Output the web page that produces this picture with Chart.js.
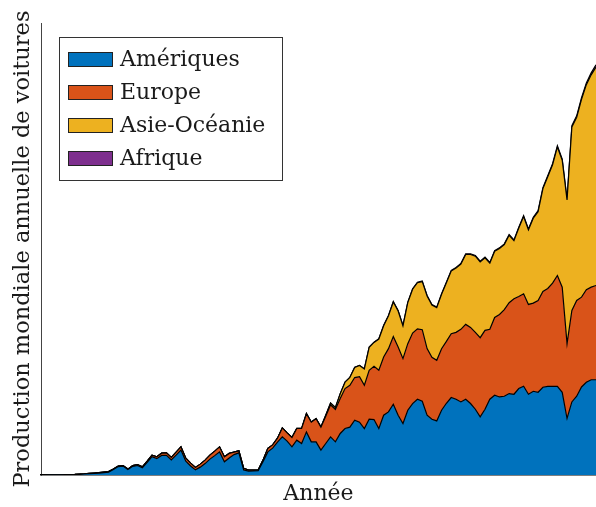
<!DOCTYPE html>
<html>
<head>
<meta charset="utf-8">
<script src="https://cdn.jsdelivr.net/npm/chart.js@4.4.0/dist/chart.umd.min.js"></script>
<style>
  html, body { margin: 0; padding: 0; background: #fff; }
  #wrap { width: 596px; height: 507px; }
</style>
</head>
<body>
<div id="wrap"><canvas id="graphCanvas" width="596" height="507"></canvas></div>
<script>
// production annuelle, en millions de voitures
var firstYear = 1900;
var lastYear = 2015;

var ameriques = [
  0.03, 0.03, 0.05, 0.05, 0.06, 0.08, 0.08, 0.1, 0.13, 0.18,
  0.23, 0.27, 0.33, 0.4, 0.48, 0.92, 1.42, 1.5, 0.93, 1.47,
  1.6, 1.22, 2.13, 3.08, 2.75, 3.28, 3.3, 2.53, 3.33, 4.18,
  2.33, 1.53, 0.87, 1.33, 1.92, 2.67, 3.25, 3.88, 2.22, 2.87,
  3.42, 3.72, 0.87, 0.67, 0.7, 0.75, 2.25, 3.88, 4.5, 5.5,
  6.38, 5.67, 4.72, 5.83, 5.28, 7.22, 5.55, 5.55, 4.17, 5.28,
  6.38, 5.55, 6.95, 7.78, 8.0, 9.17, 8.83, 7.78, 9.33, 9.28,
  7.78, 10.0, 10.55, 11.83, 10.0, 8.62, 10.83, 11.95, 12.67, 12.33,
  10.0, 9.33, 9.05, 10.83, 12.0, 12.95, 12.67, 12.22, 12.67, 11.95,
  11.0, 9.72, 11.0, 12.67, 13.33, 13.05, 13.17, 13.62, 13.5, 14.45,
  14.83, 13.5, 14.0, 13.83, 14.67, 14.83, 14.83, 14.83, 13.83, 9.45,
  12.22, 13.17, 14.72, 15.5, 15.92, 15.92
];

var europe = [
  0, 0, 0, 0.01, 0.01, 0.01, 0.02, 0.02, 0.03, 0.03,
  0.05, 0.07, 0.08, 0.1, 0.1, 0.08, 0.08, 0.08, 0.07, 0.12,
  0.15, 0.17, 0.2, 0.25, 0.3, 0.38, 0.42, 0.42, 0.5, 0.53,
  0.5, 0.47, 0.42, 0.5, 0.58, 0.67, 0.75, 0.83, 0.83, 0.75,
  0.42, 0.33, 0.25, 0.17, 0.13, 0.08, 0.25, 0.57, 0.55, 0.67,
  1.5, 1.38, 1.57, 1.95, 2.5, 3.03, 3.28, 3.87, 3.83, 4.55,
  5.37, 5.4, 5.83, 6.67, 7.0, 7.12, 7.62, 7.22, 8.17, 8.88,
  9.72, 9.72, 10.57, 11.33, 11.38, 10.83, 11.12, 11.77, 11.75, 11.95,
  11.12, 10.33, 10.12, 10.28, 10.33, 10.67, 11.17, 12.12, 12.5, 12.72,
  12.83, 13.23, 13.17, 11.67, 13.0, 13.78, 14.45, 15.17, 15.95, 15.38,
  15.45, 15.0, 14.72, 15.33, 16.0, 16.33, 17.22, 18.5, 17.55, 12.5,
  15.28, 16.0, 15.0, 15.45, 15.47, 15.75
];

var asieOceanie = [
  0, 0, 0, 0, 0, 0, 0, 0, 0, 0,
  0, 0, 0, 0, 0, 0, 0, 0, 0, 0,
  0, 0, 0, 0, 0, 0, 0, 0, 0, 0,
  0, 0, 0, 0, 0, 0, 0, 0, 0, 0,
  0, 0, 0, 0, 0, 0, 0, 0, 0, 0,
  0, 0.01, 0.01, 0.01, 0.02, 0.02, 0.02, 0.03, 0.05, 0.17,
  0.27, 0.3, 0.8, 1.07, 1.3, 1.68, 1.85, 2.73, 3.83, 4.0,
  5.22, 5.22, 5.48, 5.75, 6.03, 5.47, 6.85, 7.32, 7.7, 8.03,
  8.78, 8.73, 8.78, 9.07, 9.78, 10.45, 10.73, 10.9, 11.67, 12.17,
  12.72, 12.65, 12.1, 11.05, 11.05, 11.0, 10.88, 11.25, 9.7, 11.42,
  12.9, 12.47, 14.18, 14.83, 17.17, 18.67, 19.77, 21.47, 21.2, 24.0,
  30.62, 30.6, 33.02, 34.25, 35.45, 36.47
];

var afrique = [
  0, 0, 0, 0, 0, 0, 0, 0, 0, 0,
  0, 0, 0, 0, 0, 0, 0, 0, 0, 0,
  0, 0, 0, 0, 0, 0, 0, 0, 0, 0,
  0, 0, 0, 0, 0, 0, 0, 0, 0, 0,
  0, 0, 0, 0, 0, 0, 0, 0, 0, 0,
  0, 0, 0, 0, 0, 0, 0, 0, 0, 0,
  0.03, 0.03, 0.03, 0.03, 0.03, 0.03, 0.03, 0.05, 0.05, 0.05,
  0.07, 0.07, 0.07, 0.08, 0.08, 0.08, 0.08, 0.08, 0.1, 0.1,
  0.1, 0.1, 0.1, 0.1, 0.1, 0.1, 0.1, 0.1, 0.12, 0.12,
  0.12, 0.12, 0.12, 0.12, 0.12, 0.12, 0.12, 0.13, 0.13, 0.13,
  0.15, 0.15, 0.17, 0.17, 0.17, 0.17, 0.18, 0.2, 0.2, 0.17,
  0.22, 0.23, 0.27, 0.3, 0.33, 0.37
];

var regions = ['Amériques', 'Europe', 'Asie-Océanie', 'Afrique'];
var couleurs = ['#0072BD', '#D95319', '#EDB120', '#7E2F8E'];
var series = [ameriques, europe, asieOceanie, afrique];

var annees = [];
for (var a = firstYear; a <= lastYear; a++) {
  annees.push(String(a));
}

var police = '"DejaVu Serif", "Liberation Serif", serif';

var datasets = [];
for (var i = 0; i < regions.length; i++) {
  datasets.push({
    label: regions[i],
    data: series[i],
    backgroundColor: couleurs[i],
    borderColor: '#000',
    borderWidth: 1.2,
    pointRadius: 0,
    tension: 0,
    fill: i === 0 ? 'origin' : '-1'
  });
}

/**
* Légende dessinée dans la zone du graphe, en haut à gauche
*/
var legendeInterne = {
  id: 'legendeInterne',
  afterDraw: function (chart) {
    var ctx = chart.ctx;
    ctx.save();
    ctx.fillStyle = '#fff';
    ctx.fillRect(59.5, 37.5, 223, 143);
    ctx.strokeStyle = '#333';
    ctx.lineWidth = 1;
    ctx.strokeRect(59.5, 37.5, 223, 143);
    ctx.font = '22px ' + police;
    ctx.textBaseline = 'middle';
    for (var k = 0; k < regions.length; k++) {
      var yc = 59.5 + k * 33;
      ctx.fillStyle = couleurs[k];
      ctx.fillRect(68, yc - 7.5, 45, 15);
      ctx.strokeStyle = '#222';
      ctx.strokeRect(68.5, yc - 7, 44, 14);
      ctx.fillStyle = '#1a1a1a';
      ctx.fillText(regions[k], 120, yc + 1);
    }
    ctx.restore();
  }
};

var graphTarget = document.getElementById('graphCanvas');

var areaChart = new Chart(graphTarget, {
  type: 'line',
  data: {
    labels: annees,
    datasets: datasets
  },
  plugins: [legendeInterne],
  options: {
    responsive: false,
    animation: false,
    devicePixelRatio: 1,
    layout: {
      padding: { left: 6, right: 0, top: 23, bottom: 0 }
    },
    plugins: {
      legend: { display: false },
      tooltip: { enabled: false }
    },
    scales: {
      x: {
        offset: false,
        grid: { display: false, drawTicks: false },
        border: { display: true, color: '#000', width: 1.5 },
        ticks: { display: false },
        title: {
          display: true,
          text: 'Année',
          color: '#1a1a1a',
          font: { family: police, size: 22 },
          padding: { top: 5.5, bottom: 0 }
        }
      },
      y: {
        stacked: true,
        min: 0,
        max: 75.5,
        grid: { display: false, drawTicks: false },
        border: { display: true, color: '#444', width: 1 },
        ticks: { display: false },
        title: {
          display: true,
          text: 'Production mondiale annuelle de voitures',
          color: '#1a1a1a',
          font: { family: police, size: 22.5 },
          padding: { top: 4, bottom: 4 }
        }
      }
    }
  }
});
</script>
</body>
</html>
